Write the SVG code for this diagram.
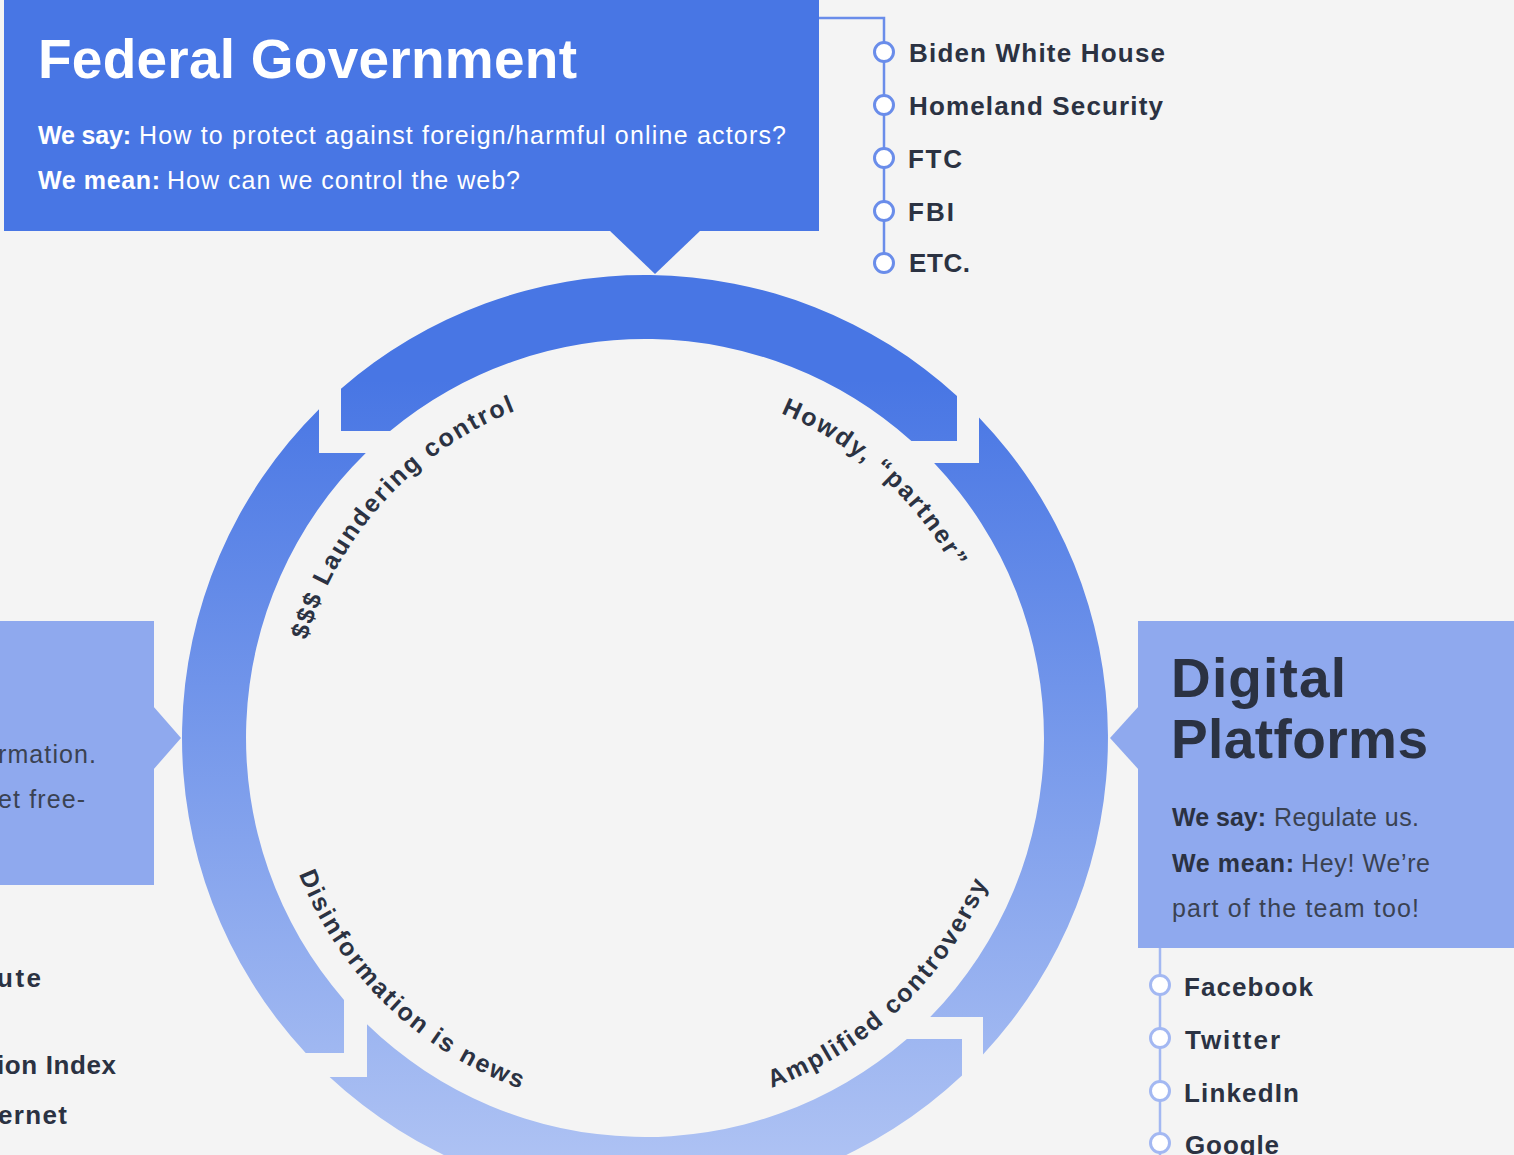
<svg xmlns="http://www.w3.org/2000/svg" width="1514" height="1155" viewBox="0 0 1514 1155">
  <defs>
    <linearGradient id="ringGrad" gradientUnits="userSpaceOnUse" x1="0" y1="380" x2="0" y2="1200">
      <stop offset="0" stop-color="#4876E4"/>
      <stop offset="1" stop-color="#B3C6F4"/>
    </linearGradient>
    <path id="arcTL" d="M 309.5 844.4 A 352 352 0 0 1 720.6 394.2"/>
    <path id="arcTR" d="M 536.8 403 A 352 352 0 0 1 989.2 811.8"/>
    <path id="arcBL" d="M 283.9 648.6 A 372 372 0 0 0 748.2 1095.4"/>
    <path id="arcBR" d="M 540 1094.9 A 372 372 0 0 0 1006.6 650.5"/>
  </defs>
  <style>
    .bg { fill: #F4F4F4; }
    .fed { fill: #4876E4; }
    .lite { fill: #8FA9EE; }
    .title { font-family: "Liberation Sans", Arial, sans-serif; font-weight: 700; }
    .body { font-family: "Liberation Sans", Arial, sans-serif; font-size: 25px; }
    .b { font-weight: 700; }
    .w { fill: #FFFFFF; }
    .dk { fill: #2B3242; }
    .md { fill: #3A4252; }
    .item { font-family: "Liberation Sans", Arial, sans-serif; font-weight: 700; font-size: 26px; fill: #2B3242; }
    .ring { fill: url(#ringGrad); }
    .lbl { font-family: "Liberation Sans", Arial, sans-serif; font-weight: 700; font-size: 25px; fill: #2B3242; letter-spacing: 2.1px; }
    .dot1 { fill: #FFFFFF; stroke: #6A8DEA; stroke-width: 3; }
    .dot2 { fill: #FFFFFF; stroke: #A3B8F2; stroke-width: 3; }
    .line1 { fill: none; stroke: #6A8DEA; stroke-width: 2.5; }
    .line2 { fill: none; stroke: #A3B8F2; stroke-width: 2.5; }
  </style>

  <rect class="bg" x="0" y="0" width="1514" height="1155"/>

  <!-- connectors: cycle ring arrows and list leaders -->
  <g id="connectors">
    <path id="seg-top" class="ring" d="M 341 431 L 341 388.8 A 463 463 0 0 1 957 395.9 L 957 441 L 911.4 441 A 399 399 0 0 0 390.1 431 Z"/>
    <path id="seg-right" class="ring" d="M 979 417.4 A 463 463 0 0 1 983 1054.4 L 983 1017 L 930.2 1017 A 399 399 0 0 0 934.1 463 L 979 463 Z"/>
    <path id="seg-bottom" class="ring" d="M 962 1039 L 962 1075.5 A 463 463 0 0 1 329.6 1077 L 367 1077 L 367 1024.2 A 399 399 0 0 0 906.9 1039 Z"/>
    <path id="seg-left" class="ring" d="M 319 409.2 L 319 453 L 365.8 453 A 399 399 0 0 0 344 999.9 L 344 1053 L 305.7 1053 A 463 463 0 0 1 319 409.2 Z"/>
    <polyline class="line1" points="819,18 884,18 884,263"/>
    <line class="line2" x1="1160" y1="948" x2="1160" y2="1160"/>
  </g>

  <g id="cycle-labels">
    <text class="lbl"><textPath href="#arcTL" startOffset="50%" text-anchor="middle">$$$ Laundering control</textPath></text>
    <text class="lbl"><textPath href="#arcTR" startOffset="50%" text-anchor="middle">Howdy, “partner”</textPath></text>
    <text class="lbl"><textPath href="#arcBL" startOffset="50%" text-anchor="middle">Disinformation is news</textPath></text>
    <text class="lbl"><textPath href="#arcBR" startOffset="50%" text-anchor="middle">Amplified controversy</textPath></text>
  </g>

  <g id="federal-government">
    <rect class="fed" x="4" y="0" width="815" height="231"/>
    <polygon class="fed" points="609,230 701,230 655,274"/>
    <text class="title w" x="38" y="78" font-size="55" textLength="539">Federal Government</text>
    <text class="body b w" x="38" y="144" textLength="93">We say:</text>
    <text class="body w" x="139" y="144" textLength="647">How to protect against foreign/harmful online actors?</text>
    <text class="body b w" x="38" y="189" textLength="122">We mean:</text>
    <text class="body w" x="167" y="189" textLength="353">How can we control the web?</text>
  </g>

  <g id="federal-list">
    <circle class="dot1" cx="884" cy="52" r="9.5"/>
    <circle class="dot1" cx="884" cy="105" r="9.5"/>
    <circle class="dot1" cx="884" cy="158" r="9.5"/>
    <circle class="dot1" cx="884" cy="211" r="9.5"/>
    <circle class="dot1" cx="884" cy="263" r="9.5"/>
    <text class="item" x="909" y="62" textLength="256">Biden White House</text>
    <text class="item" x="909" y="115" textLength="254">Homeland Security</text>
    <text class="item" x="908" y="168" textLength="54">FTC</text>
    <text class="item" x="908" y="221" textLength="46">FBI</text>
    <text class="item" x="909" y="272" textLength="61">ETC.</text>
  </g>

  <g id="digital-platforms">
    <rect class="lite" x="1138" y="621" width="376" height="327"/>
    <polygon class="lite" points="1139,706 1110,738 1139,770"/>
    <text class="title dk" x="1171" y="697" font-size="55" textLength="175">Digital</text>
    <text class="title dk" x="1171" y="758" font-size="55" textLength="257">Platforms</text>
    <text class="body b dk" x="1172" y="826" textLength="94">We say:</text>
    <text class="body md" x="1274" y="826" textLength="145">Regulate us.</text>
    <text class="body b dk" x="1172" y="872" textLength="122">We mean:</text>
    <text class="body md" x="1301" y="872" textLength="129">Hey! We’re</text>
    <text class="body md" x="1172" y="917" textLength="247">part of the team too!</text>
  </g>

  <g id="platform-list">
    <circle class="dot2" cx="1160" cy="985" r="9.5"/>
    <circle class="dot2" cx="1160" cy="1038" r="9.5"/>
    <circle class="dot2" cx="1160" cy="1091" r="9.5"/>
    <circle class="dot2" cx="1160" cy="1143" r="9.5"/>
    <text class="item" x="1184" y="996" textLength="129">Facebook</text>
    <text class="item" x="1185" y="1049" textLength="95">Twitter</text>
    <text class="item" x="1184" y="1102" textLength="115">LinkedIn</text>
    <text class="item" x="1185" y="1154" textLength="94">Google</text>
  </g>

  <g id="left-node">
    <rect class="lite" x="0" y="621" width="154" height="264"/>
    <polygon class="lite" points="153,706 181,738 153,770"/>
    <text class="body md" x="-2" y="763" textLength="98">rmation.</text>
    <text class="body md" x="-2" y="808" textLength="87">et free-</text>
  </g>

  <g id="left-list">
    <text class="item" x="-3" y="987" textLength="44">ute</text>
    <text class="item" x="-3" y="1074" textLength="119">ion Index</text>
    <text class="item" x="-2" y="1124" textLength="69">ernet</text>
  </g>
</svg>
